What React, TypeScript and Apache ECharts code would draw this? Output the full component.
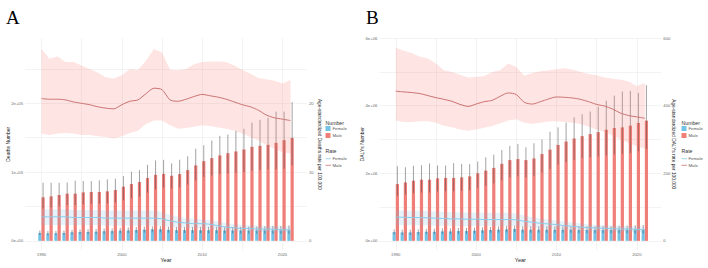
import React, { useEffect, useRef } from 'react';
import * as echarts from 'echarts';

const YEARS = [1990, 1991, 1992, 1993, 1994, 1995, 1996, 1997, 1998, 1999, 2000, 2001, 2002, 2003, 2004, 2005, 2006, 2007, 2008, 2009, 2010, 2011, 2012, 2013, 2014, 2015, 2016, 2017, 2018, 2019, 2020, 2021];

// Panel A: deaths
const A_MALE_NUM = [63300, 64700, 66700, 68600, 68600, 70500, 71000, 71000, 72000, 73900, 78700, 82600, 85500, 91300, 96100, 97400, 94700, 97100, 102900, 109700, 115900, 120300, 124200, 127500, 130000, 132900, 136700, 138200, 139600, 142500, 146400, 149800];
const A_MALE_NUM_HI = [84500, 84500, 84500, 85000, 87400, 87000, 87000, 88000, 89400, 90300, 94200, 100500, 102900, 110600, 116900, 117800, 112600, 118000, 123000, 134000, 139000, 146000, 152700, 154600, 160000, 163000, 172000, 176000, 179000, 188000, 188000, 202000];
const A_MALE_NUM_LO = [47000, 48500, 50500, 52000, 52000, 53000, 54000, 54000, 54500, 56000, 59000, 62000, 64000, 70000, 75000, 78000, 76000, 78000, 82000, 88000, 93000, 95000, 97000, 98000, 99000, 100000, 102000, 103000, 104000, 104000, 105000, 110000];
const A_FEMALE_NUM = [11500, 10800, 11000, 11500, 12500, 12800, 13000, 13300, 14000, 14200, 14800, 15200, 15800, 16200, 16800, 16800, 16000, 15500, 15500, 15500, 15500, 15500, 15500, 15200, 15000, 15000, 15000, 15000, 15200, 15200, 15200, 15200];
const A_FEMALE_NUM_HI = [15000, 14300, 14500, 15000, 16200, 16500, 16800, 17200, 18000, 18200, 18900, 19400, 20000, 20500, 21200, 21300, 20500, 20000, 20000, 20200, 20300, 20400, 20500, 20300, 20200, 20400, 20600, 20800, 21200, 21500, 21800, 22500];
const A_FEMALE_NUM_LO = [8500, 8000, 8200, 8500, 9200, 9500, 9700, 9900, 10400, 10600, 11000, 11300, 11700, 12000, 12500, 12400, 11800, 11400, 11400, 11300, 11200, 11200, 11100, 10900, 10700, 10600, 10500, 10400, 10500, 10400, 10300, 10200];
const A_MALE_RATE = [20.7, 20.6, 20.6, 20.5, 20.2, 20.0, 19.8, 19.5, 19.3, 19.2, 19.8, 20.3, 20.5, 21.4, 22.2, 22.0, 20.5, 20.3, 20.6, 21.0, 21.3, 21.1, 20.9, 20.6, 20.2, 19.8, 19.5, 19.0, 18.3, 17.9, 17.7, 17.5];
const A_MALE_RATE_HI = [27.9, 26.5, 26.8, 26.0, 26.0, 25.5, 25.0, 24.5, 23.8, 23.6, 24.1, 25.0, 24.8, 26.2, 27.9, 27.4, 24.9, 24.8, 25.0, 25.7, 26.0, 26.1, 26.1, 26.0, 25.5, 24.9, 24.3, 23.7, 23.5, 23.3, 22.9, 23.4];
const A_MALE_RATE_LO = [15.6, 15.4, 15.6, 15.7, 15.6, 15.4, 15.4, 15.2, 15.1, 14.9, 15.2, 15.7, 16.0, 17.0, 17.5, 17.5, 16.8, 16.3, 16.4, 16.6, 16.8, 16.7, 16.5, 16.3, 16.0, 15.6, 15.1, 14.6, 13.9, 13.4, 12.9, 12.7];
const A_FEMALE_RATE = [3.5, 3.5, 3.5, 3.5, 3.4, 3.4, 3.4, 3.4, 3.3, 3.3, 3.3, 3.3, 3.3, 3.3, 3.3, 3.2, 2.9, 2.7, 2.6, 2.5, 2.5, 2.4, 2.2, 2.0, 1.9, 1.8, 1.8, 1.7, 1.7, 1.7, 1.6, 1.6];
const A_FEMALE_RATE_HI = [4.6, 4.6, 4.6, 4.6, 4.5, 4.5, 4.5, 4.5, 4.4, 4.4, 4.4, 4.4, 4.4, 4.4, 4.4, 4.2, 3.8, 3.5, 3.3, 3.2, 3.1, 3.0, 2.8, 2.6, 2.4, 2.3, 2.3, 2.2, 2.2, 2.2, 2.1, 2.1];
const A_FEMALE_RATE_LO = [2.3, 2.3, 2.3, 2.3, 2.3, 2.3, 2.3, 2.3, 2.2, 2.2, 2.2, 2.2, 2.2, 2.2, 2.2, 2.2, 2.0, 1.9, 1.9, 1.8, 1.8, 1.8, 1.7, 1.5, 1.4, 1.4, 1.4, 1.3, 1.3, 1.3, 1.2, 1.2];

// Panel B: DALYs
const B_MALE_NUM = [1680000, 1730000, 1780000, 1810000, 1810000, 1850000, 1860000, 1860000, 1880000, 1910000, 2000000, 2080000, 2160000, 2280000, 2390000, 2420000, 2390000, 2440000, 2570000, 2700000, 2840000, 2940000, 3030000, 3100000, 3160000, 3220000, 3290000, 3340000, 3360000, 3410000, 3490000, 3560000];
const B_MALE_NUM_HI = [2210000, 2180000, 2220000, 2240000, 2290000, 2230000, 2230000, 2300000, 2280000, 2270000, 2350000, 2470000, 2550000, 2690000, 2810000, 2870000, 2770000, 2890000, 3000000, 3230000, 3360000, 3500000, 3660000, 3750000, 3830000, 3970000, 4150000, 4300000, 4420000, 4440000, 4380000, 4610000];
const B_MALE_NUM_LO = [1340000, 1370000, 1410000, 1430000, 1430000, 1460000, 1470000, 1470000, 1480000, 1500000, 1570000, 1630000, 1700000, 1790000, 1880000, 1910000, 1880000, 1920000, 2020000, 2130000, 2260000, 2330000, 2400000, 2450000, 2480000, 2500000, 2530000, 2560000, 2580000, 2600000, 2650000, 2720000];
const B_FEMALE_NUM = [260000, 250000, 250000, 260000, 270000, 270000, 280000, 280000, 290000, 290000, 300000, 310000, 320000, 330000, 340000, 350000, 330000, 330000, 330000, 330000, 330000, 330000, 330000, 320000, 320000, 320000, 320000, 320000, 320000, 320000, 320000, 320000];
const B_FEMALE_NUM_HI = [340000, 330000, 330000, 340000, 350000, 360000, 370000, 370000, 380000, 380000, 390000, 400000, 410000, 430000, 440000, 450000, 430000, 430000, 430000, 430000, 430000, 430000, 430000, 430000, 430000, 430000, 440000, 440000, 450000, 450000, 460000, 470000];
const B_FEMALE_NUM_LO = [190000, 180000, 180000, 190000, 200000, 200000, 210000, 210000, 210000, 210000, 220000, 230000, 240000, 240000, 250000, 260000, 240000, 240000, 240000, 240000, 240000, 240000, 240000, 230000, 230000, 230000, 230000, 230000, 230000, 230000, 220000, 220000];
const B_MALE_RATE = [443, 441, 439, 436, 430, 424, 419, 413, 404, 398, 405, 412, 416, 428, 438, 433, 410, 405, 412, 420, 426, 425, 423, 419, 412, 404, 399, 390, 378, 371, 367, 363];
const B_MALE_RATE_HI = [572, 563, 556, 545, 540, 525, 505, 500, 492, 484, 485, 488, 500, 505, 525, 515, 489, 497, 502, 505, 508, 511, 507, 500, 494, 490, 484, 480, 477, 472, 458, 467];
const B_MALE_RATE_LO = [356, 352, 351, 354, 354, 350, 341, 336, 330, 326, 330, 335, 340, 348, 356, 360, 350, 347, 350, 353, 354, 352, 350, 346, 338, 330, 322, 312, 300, 290, 280, 273];
const B_FEMALE_RATE = [70, 70, 69, 69, 68, 67, 66, 65, 65, 64, 64, 63, 63, 63, 63, 62, 58, 55, 52, 50, 48, 45, 43, 41, 39, 38, 37, 36, 35, 35, 34, 33];
const B_FEMALE_RATE_HI = [90, 90, 89, 89, 88, 87, 86, 85, 85, 84, 84, 83, 83, 83, 83, 81, 75, 70, 66, 63, 60, 57, 54, 51, 49, 47, 46, 45, 44, 44, 43, 42];
const B_FEMALE_RATE_LO = [46, 46, 46, 46, 46, 45, 45, 45, 44, 44, 44, 44, 44, 44, 44, 44, 41, 39, 37, 36, 35, 33, 32, 30, 29, 28, 28, 27, 27, 27, 26, 26];

const C_MALE_BAR = '#F07E78';
const C_FEMALE_BAR = '#72C3E6';
const C_MALE_LINE = '#C97272';
const C_FEMALE_LINE = '#86CBE8';
const C_MALE_BAND = 'rgba(248,118,109,0.2)';
const C_FEMALE_BAND = 'rgba(120,190,230,0.18)';
const FONT = 'Liberation Sans, Arial, sans-serif';
const BAR_W = 0.4;

function sci(v: number): string {
  if (v === 0) return '0e+00';
  const e = Math.floor(Math.log10(Math.abs(v)) + 1e-9);
  const m = Math.round(v / Math.pow(10, e));
  return `${m}e+${String(e).padStart(2, '0')}`;
}

function barSeries(xi: number, yi: number, vals: number[], lo: number[], hi: number[], offset: number, color: string) {
  return {
    type: 'custom',
    xAxisIndex: xi,
    yAxisIndex: yi,
    z: 1,
    silent: true,
    data: YEARS.map((y, i) => [y, vals[i], lo[i], hi[i]]),
    encode: { x: 0, y: [1, 2, 3] },
    renderItem: (params: any, api: any) => {
      const x = api.value(0);
      const v = api.value(1);
      const l = api.value(2);
      const h = api.value(3);
      const a = api.coord([x + offset - BAR_W / 2, 0]);
      const b = api.coord([x + offset + BAR_W / 2, v]);
      const c = api.coord([x + offset, l]);
      const d = api.coord([x + offset, h]);
      return {
        type: 'group',
        children: [
          { type: 'rect', shape: { x: a[0], y: b[1], width: b[0] - a[0], height: a[1] - b[1] }, style: { fill: color } },
          { type: 'line', shape: { x1: c[0], y1: c[1], x2: d[0], y2: d[1] }, style: { stroke: 'rgba(70,70,70,0.5)', lineWidth: 1 } },
        ],
      };
    },
  };
}

function bandSeries(xi: number, yi: number, lo: number[], hi: number[], color: string) {
  return {
    type: 'custom',
    xAxisIndex: xi,
    yAxisIndex: yi,
    z: 3,
    silent: true,
    data: YEARS.map((y, i) => [y, lo[i], hi[i]]),
    encode: { x: 0, y: [1, 2] },
    renderItem: (params: any, api: any) => {
      if (params.dataIndex !== 0) return null;
      const upper = YEARS.map((y, i) => api.coord([y, hi[i]]));
      const lower = YEARS.map((y, i) => api.coord([y, lo[i]])).reverse();
      return { type: 'polygon', shape: { points: upper.concat(lower) }, style: { fill: color } };
    },
  };
}

function lineSeries(xi: number, yi: number, vals: number[], color: string) {
  return {
    type: 'line', xAxisIndex: xi, yAxisIndex: yi, symbol: 'none', silent: true, z: 4, smooth: 0.25,
    data: YEARS.map((y, i) => [y, vals[i]]), lineStyle: { color, width: 1 },
  };
}

const GRID_COLOR = '#EBEBEB';
const LABEL_STYLE = { fontSize: 4.2, color: '#6b6b6b', fontFamily: FONT };

function xAxisDef(gi: number) {
  return {
    type: 'value', gridIndex: gi, min: 1987.95, max: 2023.05, splitNumber: 7,
    name: 'Year', nameLocation: 'middle', nameGap: 6.5, nameMoveOverlap: false,
    nameTextStyle: { fontSize: 5.5, color: '#222', fontFamily: FONT },
    axisLine: { show: false }, axisTick: { show: false },
    axisLabel: { ...LABEL_STYLE, margin: 1.5, showMinLabel: false, showMaxLabel: false, formatter: (v: number) => (Math.abs(v % 10) < 1e-6 ? String(Math.round(v)) : '') },
    splitLine: { show: true, showMinLine: false, showMaxLine: false, lineStyle: { color: GRID_COLOR, width: 0.6 } },
  };
}

function yLeft(gi: number, min: number, max: number, labelStep: number, name: string) {
  return {
    type: 'value', gridIndex: gi, position: 'left', min, max, splitNumber: 6,
    name, nameLocation: 'middle', nameGap: 15, nameRotate: 90, nameMoveOverlap: false,
    nameTextStyle: { fontSize: 5, color: '#222', fontFamily: FONT },
    axisLine: { show: false }, axisTick: { show: false },
    axisLabel: { ...LABEL_STYLE, margin: 2, showMinLabel: false, showMaxLabel: false, formatter: (v: number) => (Math.abs(v % labelStep) < 1e-6 ? sci(v) : '') },
    splitLine: { show: true, showMinLine: false, showMaxLine: false, lineStyle: { color: GRID_COLOR, width: 0.6 } },
  };
}

function yRight(gi: number, min: number, max: number, labelStep: number, name: string) {
  return {
    type: 'value', gridIndex: gi, position: 'right', min, max, splitNumber: 3,
    name, nameLocation: 'middle', nameGap: 9.5, nameRotate: -90, nameMoveOverlap: false,
    nameTextStyle: { fontSize: 4.8, color: '#222', fontFamily: FONT },
    axisLine: { show: false }, axisTick: { show: false },
    axisLabel: { ...LABEL_STYLE, margin: 2, showMinLabel: false, showMaxLabel: false, formatter: (v: number) => (Math.abs(v % labelStep) < 1e-6 ? String(Math.round(v)) : '') },
    splitLine: { show: false },
  };
}

function legendGraphics(x: number) {
  const t = (text: string, tx: number, ty: number, size: number, fill: string) => ({
    type: 'text', x: tx, y: ty, style: { text, fontSize: size, fill, fontFamily: FONT, verticalAlign: 'middle', align: 'left' },
  });
  return [
    t('Number', x, 122.7, 5.2, '#333'),
    { type: 'rect', shape: { x, y: 126, width: 5, height: 5 }, style: { fill: C_FEMALE_BAR } },
    t('Female', x + 7, 128.5, 4.3, '#555'),
    { type: 'rect', shape: { x, y: 133, width: 5, height: 5 }, style: { fill: C_MALE_BAR } },
    t('Male', x + 7, 135.5, 4.3, '#555'),
    t('Rate', x, 151, 5.2, '#333'),
    { type: 'line', shape: { x1: x, y1: 158.7, x2: x + 5.5, y2: 158.7 }, style: { stroke: C_FEMALE_LINE, lineWidth: 0.8 } },
    t('Female', x + 7, 158.7, 4.3, '#555'),
    { type: 'line', shape: { x1: x, y1: 165.3, x2: x + 5.5, y2: 165.3 }, style: { stroke: C_MALE_LINE, lineWidth: 0.8 } },
    t('Male', x + 7, 165.3, 4.3, '#555'),
  ];
}

export default function App() {
  const ref = useRef<HTMLDivElement>(null);
  useEffect(() => {
    if (!ref.current) return;
    const chart = echarts.init(ref.current, undefined, { renderer: 'svg' });
    const option: any = {
      animation: false,
      backgroundColor: '#ffffff',
      grid: [
        { left: 25, top: 38, width: 282, height: 213 },
        { left: 379.3, top: 38, width: 282, height: 213 },
      ],
      xAxis: [xAxisDef(0), xAxisDef(1)],
      yAxis: [
        yLeft(0, -14050, 295050, 100000, 'Deaths Number'),
        yRight(0, -1.405, 29.505, 10, 'Age-standardized Deaths rate per 100,000'),
        yLeft(1, -286000, 6006000, 2000000, 'DALYs Number'),
        yRight(1, -28.6, 600.6, 200, 'Age-standardized DALYs rate per 100,000'),
      ],
      series: [
        barSeries(0, 0, A_FEMALE_NUM, A_FEMALE_NUM_LO, A_FEMALE_NUM_HI, -0.2, C_FEMALE_BAR),
        barSeries(0, 0, A_MALE_NUM, A_MALE_NUM_LO, A_MALE_NUM_HI, 0.2, C_MALE_BAR),
        bandSeries(0, 1, A_MALE_RATE_LO, A_MALE_RATE_HI, C_MALE_BAND),
        bandSeries(0, 1, A_FEMALE_RATE_LO, A_FEMALE_RATE_HI, C_FEMALE_BAND),
        lineSeries(0, 1, A_MALE_RATE, C_MALE_LINE),
        lineSeries(0, 1, A_FEMALE_RATE, C_FEMALE_LINE),
        barSeries(1, 2, B_FEMALE_NUM, B_FEMALE_NUM_LO, B_FEMALE_NUM_HI, -0.2, C_FEMALE_BAR),
        barSeries(1, 2, B_MALE_NUM, B_MALE_NUM_LO, B_MALE_NUM_HI, 0.2, C_MALE_BAR),
        bandSeries(1, 3, B_MALE_RATE_LO, B_MALE_RATE_HI, C_MALE_BAND),
        bandSeries(1, 3, B_FEMALE_RATE_LO, B_FEMALE_RATE_HI, C_FEMALE_BAND),
        lineSeries(1, 3, B_MALE_RATE, C_MALE_LINE),
        lineSeries(1, 3, B_FEMALE_RATE, C_FEMALE_LINE),
      ],
      graphic: [
        { type: 'text', x: 6, y: 8, style: { text: 'A', fontSize: 19, fill: '#000', fontFamily: 'Liberation Serif, Times New Roman, serif' } },
        { type: 'text', x: 366, y: 8, style: { text: 'B', fontSize: 19, fill: '#000', fontFamily: 'Liberation Serif, Times New Roman, serif' } },
        ...legendGraphics(325.5),
        ...legendGraphics(681.5),
      ],
    };
    chart.setOption(option);
    return () => chart.dispose();
  }, []);
  return <div ref={ref} style={{ position: 'fixed', left: 0, top: 0, width: 708, height: 268, background: '#fff' }} />;
}
